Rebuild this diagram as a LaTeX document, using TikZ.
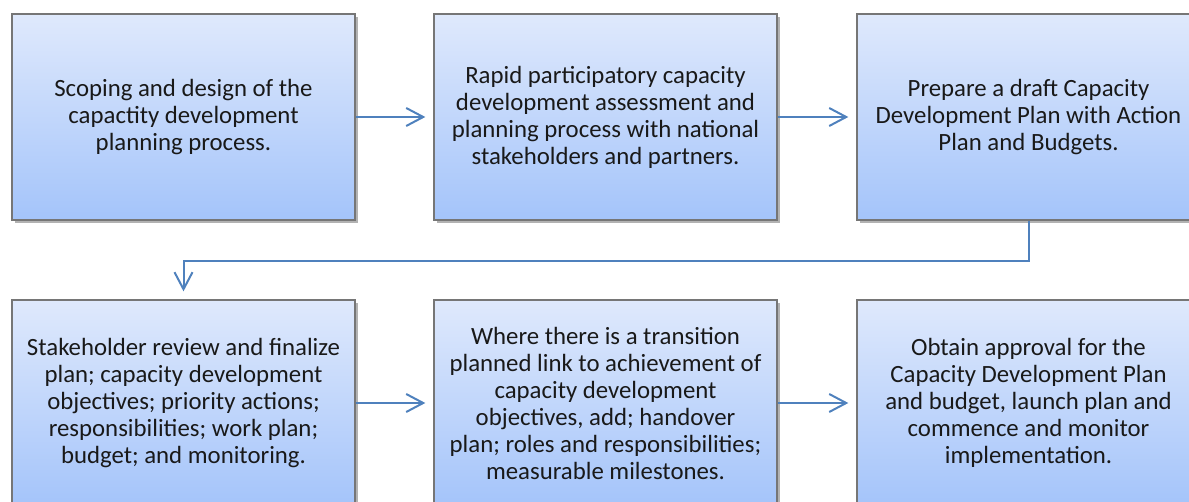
\documentclass[tikz,border=0pt]{standalone}
\usepackage{fontspec}
\setmainfont{Carlito}
\usetikzlibrary{arrows.meta,shadows}
\definecolor{boxtop}{RGB}{223,233,252}
\definecolor{boxbot}{RGB}{164,196,250}
\definecolor{boxline}{RGB}{118,118,118}
\definecolor{flowblue}{RGB}{79,129,189}
\tikzset{
  stagebox/.style={draw=boxline, line width=1.3pt, top color=boxtop, bottom color=boxbot,
    minimum width=343pt, minimum height=206pt, align=center, inner sep=0pt,
    font=\fontsize{24.8}{27}\selectfont, text=black!90,
    drop shadow={shadow xshift=3pt, shadow yshift=-3pt, fill=black, opacity=0.3}},
  flow/.style={draw=flowblue, line width=2pt, -{Straight Barb[length=17pt,width=18pt,line width=2pt]}, shorten >=8pt}
}
\begin{document}
\begin{tikzpicture}[x=1pt, y=-1pt]
			\clip (0,0) rectangle (1189,502);
			\useasboundingbox (0,0) rectangle (1189,502);
			
			%%%%% TOP ROW %%%%%
			\node[stagebox] (scope) at (183.5, 117) {Scoping and design of the\\ capactity development\\ planning process.};
			\node[stagebox] (assess) at (605.5, 117) {Rapid participatory capacity\\ development assessment and\\ planning process with national\\ stakeholders and partners.};
			\node[stagebox] (draft) at (1028.5, 117) {Prepare a draft Capacity\\ Development Plan with Action\\ Plan and Budgets.};
			
			%%%%% BOTTOM ROW %%%%%
			\node[stagebox] (review) at (183.5, 403) {Stakeholder review and finalize\\ plan; capacity development\\ objectives; priority actions;\\ responsibilities; work plan;\\ budget; and monitoring.};
			\node[stagebox] (handover) at (605.5, 403) {Where there is a transition\\ planned link to achievement of\\ capacity development\\ objectives, add; handover\\ plan; roles and responsibilities;\\ measurable milestones.};
			\node[stagebox] (approve) at (1028.5, 403) {Obtain approval for the\\ Capacity Development Plan\\ and budget, launch plan and\\ commence and monitor\\ implementation.};
			
			%%%%% CONNECTORS %%%%%
			\draw[flow] (scope) -- (assess);
			\draw[flow] (assess) -- (draft);
			\draw[flow] (draft.south) -- ++(0, 40) -| (review.north);
			\draw[flow] (review) -- (handover);
			\draw[flow] (handover) -- (approve);
\end{tikzpicture}
\end{document}
